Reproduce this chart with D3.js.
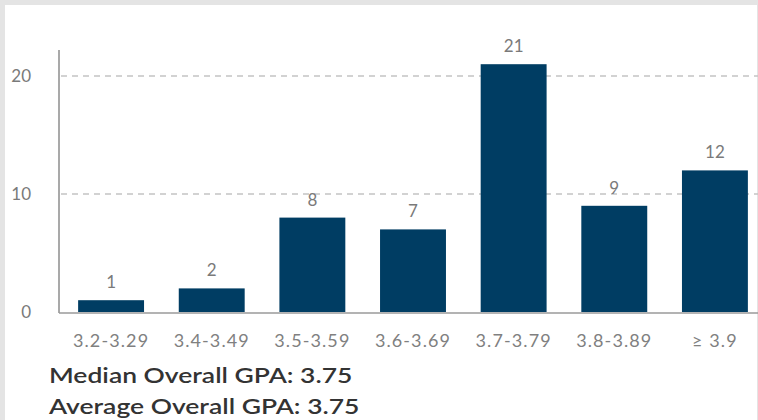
<!DOCTYPE html>
<html>
<head>
<meta charset="utf-8">
<script src="https://cdn.jsdelivr.net/npm/d3@7"></script>
<style>
  body { margin: 0; background: #e4e4e4; }
  svg { display: block; }
</style>
</head>
<body>
<svg></svg>
<script>
// data
const ranges = ["3.2-3.29", "3.4-3.49", "3.5-3.59", "3.6-3.69", "3.7-3.79", "3.8-3.89", "≥ 3.9"];
const counts = [1, 2, 8, 7, 21, 9, 12];
const yTicks = [0, 10, 20];
const notes = ["Median Overall GPA: 3.75", "Average Overall GPA: 3.75"];

const width = 758, height = 420;

const svg = d3.select("svg")
    .attr("width", width)
    .attr("height", height);

// white panel, grey frame on top and left
svg.append("rect")
    .attr("x", 5)
    .attr("y", 5)
    .attr("width", width - 6)
    .attr("height", height - 5)
    .attr("fill", "#fff");

const axisX = 59, baseY = 312, topY = 50;

const yScale = d3.scaleLinear()
    .domain([0, 10])
    .range([baseY, baseY - 118]);

const xScale = d3.scaleBand()
    .domain(ranges)
    .range([axisX, 767])
    .paddingInner(0.345)
    .paddingOuter(0.19);

const plot = svg.append("g");

// dashed grid lines
plot.selectAll(".grid")
    .data(yTicks.filter(d => d > 0))
    .enter()
    .append("line")
    .attr("x1", axisX + 2)
    .attr("x2", width)
    .attr("y1", d => yScale(d))
    .attr("y2", d => yScale(d))
    .attr("stroke", "#c4c4c4")
    .attr("stroke-width", 1.5)
    .attr("stroke-dasharray", "6,5");

// bars
plot.selectAll(".bar")
    .data(counts)
    .enter()
    .append("rect")
    .attr("x", (d, i) => xScale(ranges[i]))
    .attr("y", d => yScale(d))
    .attr("width", xScale.bandwidth())
    .attr("height", d => baseY - yScale(d))
    .attr("fill", "#003d63");

// value labels
plot.selectAll(".val")
    .data(counts)
    .enter()
    .append("text")
    .attr("x", (d, i) => xScale(ranges[i]) + xScale.bandwidth() / 2)
    .attr("y", d => yScale(d) - 12)
    .attr("text-anchor", "middle")
    .attr("font-family", "Lato")
    .attr("font-size", 17)
    .attr("fill", "#7a7a7a")
    .text(d => d);

// axis lines
plot.append("line")
    .attr("x1", axisX).attr("x2", axisX)
    .attr("y1", topY).attr("y2", baseY + 1)
    .attr("stroke", "#8c8c8c")
    .attr("stroke-width", 1.5);

plot.append("line")
    .attr("x1", axisX).attr("x2", width)
    .attr("y1", baseY + 1).attr("y2", baseY + 1)
    .attr("stroke", "#9a9a9a")
    .attr("stroke-width", 1.5);

// y tick labels
plot.selectAll(".ytick")
    .data(yTicks)
    .enter()
    .append("text")
    .attr("x", 31)
    .attr("y", d => yScale(d) + 6)
    .attr("text-anchor", "end")
    .attr("font-family", "Lato")
    .attr("font-size", 17)
    .attr("fill", "#7a7a7a")
    .text(d => d);

// x labels
plot.selectAll(".xtick")
    .data(ranges)
    .enter()
    .append("text")
    .attr("x", d => xScale(d) + xScale.bandwidth() / 2)
    .attr("y", 347)
    .attr("text-anchor", "middle")
    .attr("font-family", "Lato")
    .attr("font-size", 18)
    .attr("letter-spacing", 1.1)
    .attr("fill", "#808080")
    .text(d => d);

// summary lines (the source text is a bit stretched sideways)
svg.selectAll(".note")
    .data(notes)
    .enter()
    .append("text")
    .attr("transform", (d, i) => `translate(49, ${383 + i * 31}) scale(1.26, 1)`)
    .attr("font-family", "Lato")
    .attr("font-size", 21)
    .attr("font-weight", 600)
    .attr("fill", "#333")
    .text(d => d);
</script>
</body>
</html>
